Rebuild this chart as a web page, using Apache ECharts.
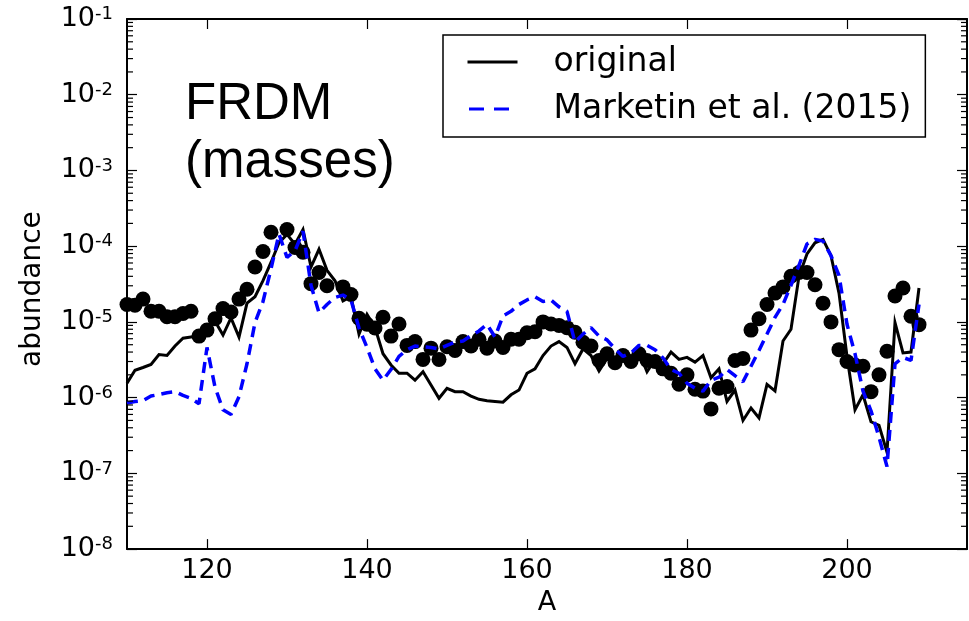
<!DOCTYPE html>
<html>
<head>
<meta charset="utf-8">
<script src="https://cdn.jsdelivr.net/npm/echarts@6.0.0/dist/echarts.min.js"></script>
<style>
  html, body { margin: 0; padding: 0; background: #fff; }
  #chart { width: 969px; height: 621px; }
</style>
</head>
<body>
<div id="chart"></div>
<script>
// Mass numbers A = 110 ... 209
const massNumbers = [];
for (let a = 110; a <= 209; a++) massNumbers.push(a);

// Solar r-process abundances (filled circles); null = no point
const solarAbundance = [
  1.7e-5, 1.66e-5, 2.0e-5, 1.38e-5, 1.38e-5, 1.17e-5, 1.17e-5, 1.29e-5, 1.38e-5, 6.5e-6,
  7.8e-6, 1.1e-5, 1.5e-5, 1.35e-5, 2.0e-5, 2.7e-5, 5.3e-5, 8.5e-5, 1.53e-4, null,
  1.66e-4, 9.6e-5, 8.3e-5, 3.2e-5, 4.5e-5, 3.0e-5, null, 2.9e-5, 2.3e-5, 1.12e-5,
  9.3e-6, 8.3e-6, 1.15e-5, 6.5e-6, 9.4e-6, 4.9e-6, 5.5e-6, 3.2e-6, 4.5e-6, 3.2e-6,
  4.7e-6, 4.2e-6, 5.5e-6, 4.8e-6, 5.9e-6, 4.5e-6, 5.6e-6, 4.6e-6, 5.9e-6, 5.9e-6,
  7.2e-6, 7.4e-6, 1.0e-5, 9.4e-6, 9.0e-6, 8.4e-6, 7.3e-6, 5.4e-6, 4.8e-6, 3.1e-6,
  3.8e-6, 2.9e-6, 3.6e-6, 3.0e-6, 3.8e-6, 3.1e-6, 3.0e-6, 2.4e-6, 2.1e-6, 1.5e-6,
  2.0e-6, 1.29e-6, 1.22e-6, 7.1e-7, 1.33e-6, 1.4e-6, 3.1e-6, 3.3e-6, 7.8e-6, 1.1e-5,
  1.7e-5, 2.4e-5, 2.9e-5, 4.0e-5, 4.5e-5, 4.5e-5, 3.1e-5, 1.77e-5, 1.0e-5, 4.3e-6,
  3.0e-6, 2.7e-6, 2.6e-6, 1.2e-6, 2.0e-6, 4.1e-6, 2.2e-5, 2.8e-5, 1.19e-5, 9.2e-6
];

// Calculation with the original beta-decay rates
const originalAbundance = [
  1.55e-6, 2.3e-6, 2.5e-6, 2.75e-6, 3.7e-6, 3.6e-6, 4.8e-6, 6.1e-6, 6.3e-6, 6.5e-6,
  7.9e-6, 1.02e-5, 6.7e-6, 1.13e-5, 6.3e-6, 1.77e-5, 2.15e-5, 3.5e-5, 6.1e-5, 1.11e-4,
  1.43e-4, 1.06e-4, 1.66e-4, 5.3e-5, 9.1e-5, 4.8e-5, 3.5e-5, 1.9e-5, 2.15e-5, 6.9e-6,
  1.26e-5, 8.4e-6, 3.8e-6, 2.7e-6, 2.1e-6, 2.1e-6, 1.7e-6, 2.2e-6, 1.47e-6, 9.8e-7,
  1.33e-6, 1.2e-6, 1.2e-6, 1.05e-6, 9.5e-7, 9.1e-7, 8.9e-7, 8.7e-7, 1.09e-6, 1.26e-6,
  2.1e-6, 2.4e-6, 3.6e-6, 4.8e-6, 5.5e-6, 4.6e-6, 2.8e-6, 4.4e-6, 3.6e-6, 2.25e-6,
  3.3e-6, 3.1e-6, 3.7e-6, 3.1e-6, 4.0e-6, 2.2e-6, 3.2e-6, 2.8e-6, 4.0e-6, 3.2e-6,
  3.4e-6, 2.95e-6, 3.6e-6, 1.83e-6, 2.4e-6, 8.9e-7, 1.26e-6, 5.0e-7, 7.3e-7, 5.4e-7,
  1.5e-6, 1.23e-6, 5.6e-6, 8.0e-6, 4.0e-5, 7.9e-5, 1.11e-4, 1.23e-4, 7.5e-5, 2.4e-5,
  3.5e-6, 6.9e-7, 1.09e-6, 4.8e-7, 4.3e-7, 1.9e-7, 9.8e-6, 3.9e-6, 4.0e-6, 2.8e-5
];

// Calculation with the Marketin et al. (2015) rates
const marketinAbundance = [
  8.5e-7, 8.9e-7, 9.1e-7, 1.05e-6, 1.1e-6, 1.16e-6, 1.2e-6, 1.07e-6, 9.8e-7, 8.3e-7,
  4.6e-6, 1.38e-6, 6.9e-7, 6.0e-7, 1.03e-6, 2.8e-6, 9.8e-6, 1.86e-5, 5.0e-5, 1.45e-4,
  7.1e-5, 8.7e-5, 1.58e-4, 3.05e-5, 1.32e-5, 1.7e-5, 2.1e-5, 2.26e-5, 1.95e-5, 8.3e-6,
  4.6e-6, 2.4e-6, 1.7e-6, 2.35e-6, 3.5e-6, 4.3e-6, 4.8e-6, 4.7e-6, 4.6e-6, 4.4e-6,
  4.9e-6, 5.4e-6, 5.6e-6, 6.6e-6, 7.6e-6, 9.3e-6, 6.3e-6, 1.2e-5, 1.38e-5, 1.7e-5,
  1.95e-5, 2.15e-5, 1.86e-5, 1.95e-5, 1.58e-5, 1.38e-5, 5.4e-6, 6.9e-6, 8.4e-6, 6.5e-6,
  5.8e-6, 4.4e-6, 3.5e-6, 3.9e-6, 4.9e-6, 4.9e-6, 4.3e-6, 3.35e-6, 2.35e-6, 2.1e-6,
  1.55e-6, 1.33e-6, 1.22e-6, 1.7e-6, 1.86e-6, 2.35e-6, 1.95e-6, 1.62e-6, 2.6e-6, 4.2e-6,
  6.9e-6, 1.15e-5, 1.7e-5, 3.05e-5, 5.6e-5, 1.07e-4, 1.23e-4, 1.17e-4, 7.5e-5, 4.1e-5,
  9.3e-6, 3.8e-6, 1.22e-6, 6.7e-7, 3.0e-7, 1.23e-7, 2.8e-6, 3.4e-6, 3.1e-6, 1.7e-5
];

// Axis ranges and tick values
const xRange = [110, 215];
const xTickValues = [120, 140, 160, 180, 200];
const yRange = [1e-8, 1e-1];
const yMinorTicks = [];
for (let e = -8; e < -1; e++) {
  for (let m = 2; m <= 9; m++) yMinorTicks.push(m * Math.pow(10, e));
}

const seriesNames = ['original', 'Marketin et al. (2015)'];
const panelLabel = 'FRDM\n(masses)';

const pairs = (ys) => massNumbers.map((a, i) => [a, ys[i] == null ? '-' : ys[i]]);

const FONT = 'DejaVu Sans';

const xAxisBase = {
  type: 'value',
  min: xRange[0],
  max: xRange[1],
  splitLine: { show: false },
  axisLine: { show: true, onZero: false, lineStyle: { color: '#000', width: 2 } },
  axisTick: { show: true, inside: true, length: 10, customValues: xTickValues,
              lineStyle: { color: '#000', width: 1.2 } }
};

const yAxisBase = {
  type: 'log',
  logBase: 10,
  min: yRange[0],
  max: yRange[1],
  interval: 1,
  splitLine: { show: false },
  minorTick: { show: false },
  axisLine: { show: true, onZero: false, lineStyle: { color: '#000', width: 2 } },
  axisTick: { show: true, inside: true, length: 10, lineStyle: { color: '#000', width: 1.2 } }
};

const chart = echarts.init(document.getElementById('chart'), null, { renderer: 'canvas' });

chart.setOption({
  animation: false,
  backgroundColor: '#fff',
  grid: { left: 127, right: 2, top: 19, bottom: 62, containLabel: false },
  xAxis: [
    Object.assign({}, xAxisBase, {
      position: 'bottom',
      name: 'A',
      nameLocation: 'middle',
      nameGap: 36,
      nameTextStyle: { fontFamily: FONT, fontSize: 27, color: '#000' },
      axisLabel: { show: true, customValues: xTickValues, margin: 8,
                   fontFamily: FONT, fontSize: 27, color: '#000' }
    }),
    Object.assign({}, xAxisBase, { position: 'top', axisLabel: { show: false } })
  ],
  yAxis: [
    Object.assign({}, yAxisBase, {
      position: 'left',
      name: 'abundance',
      nameLocation: 'middle',
      nameGap: 80,
      nameTextStyle: { fontFamily: FONT, fontSize: 28, color: '#000', padding: [0, 10, 0, 0] },
      axisLabel: {
        show: true,
        margin: 14,
        formatter: (v) => '{b|10}{s|' + Math.round(Math.log10(v)) + '}',
        rich: {
          b: { fontFamily: FONT, fontSize: 27, color: '#000', verticalAlign: 'bottom', lineHeight: 27 },
          s: { fontFamily: FONT, fontSize: 18, color: '#000', verticalAlign: 'top', lineHeight: 18,
               padding: [0, 0, 16, 0] }
        }
      }
    }),
    Object.assign({}, yAxisBase, { position: 'right', axisLabel: { show: false } })
  ],
  legend: {
    data: [
      { name: seriesNames[0] },
      { name: seriesNames[1], lineStyle: { type: [15, 10], dashOffset: 23.5 } }
    ],
    orient: 'vertical',
    left: 443,
    top: 35,
    padding: [8, 14, 9, 23],
    itemGap: 9,
    itemWidth: 50,
    itemHeight: 4,
    backgroundColor: '#fff',
    borderColor: '#000',
    borderWidth: 1.5,
    borderRadius: 0,
    selectedMode: false,
    itemStyle: { color: 'rgba(0,0,0,0)', borderColor: 'rgba(0,0,0,0)', borderWidth: 0 },
    lineStyle: { width: 3 },
    textStyle: { fontFamily: FONT, fontSize: 33, color: '#000', lineHeight: 38,
                 padding: [0, 0, 0, 31] }
  },
  graphic: [{
    type: 'text',
    left: 185,
    top: 76,
    style: { text: panelLabel, font: '51px "Liberation Sans"', fill: '#000', lineHeight: 58 }
  }],
  series: [
    {
      name: 'solar',
      type: 'scatter',
      xAxisIndex: 0, yAxisIndex: 0,
      data: pairs(solarAbundance),
      symbol: 'circle',
      symbolSize: 15,
      itemStyle: { color: '#000', opacity: 1 },
      z: 2
    },
    {
      name: seriesNames[0],
      type: 'line',
      xAxisIndex: 0, yAxisIndex: 0,
      data: pairs(originalAbundance),
      showSymbol: false,
      symbol: 'none',
      lineStyle: { color: '#000', width: 3, join: 'miter' },
      itemStyle: { color: '#000' },
      z: 3
    },
    {
      name: seriesNames[1],
      type: 'line',
      xAxisIndex: 0, yAxisIndex: 0,
      data: pairs(marketinAbundance),
      showSymbol: false,
      symbol: 'none',
      lineStyle: { color: '#0000ff', width: 3.5, type: [11, 7] },
      itemStyle: { color: '#0000ff' },
      z: 4
    },
    {
      // minor ticks of the log axis on the left and right frame
      name: 'minorTicks',
      type: 'custom',
      xAxisIndex: 0, yAxisIndex: 0,
      silent: true,
      clip: false,
      data: yMinorTicks.map((v) => [xRange[0], v]),
      encode: { x: 0, y: 1 },
      renderItem: (params, api) => {
        const v = api.value(1);
        const p = api.coord([xRange[0], v]);
        const q = api.coord([xRange[1], v]);
        return {
          type: 'group',
          children: [
            { type: 'line', shape: { x1: p[0], y1: p[1], x2: p[0] + 6, y2: p[1] },
              style: { stroke: '#000', lineWidth: 1.2 } },
            { type: 'line', shape: { x1: q[0] - 6, y1: q[1], x2: q[0], y2: q[1] },
              style: { stroke: '#000', lineWidth: 1.2 } }
          ]
        };
      },
      z: 5
    }
  ]
});
</script>
</body>
</html>
